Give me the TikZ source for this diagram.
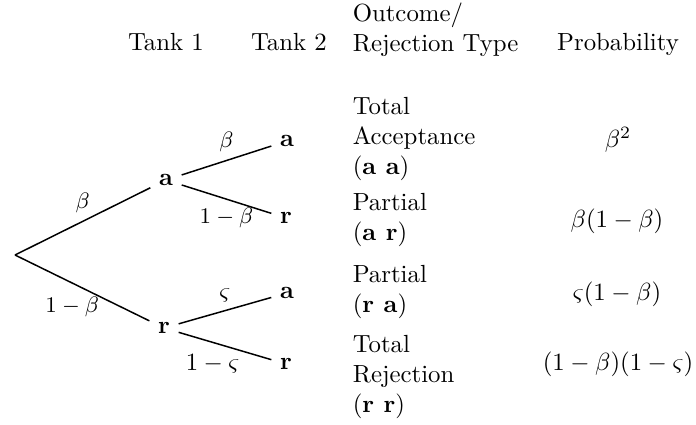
\documentclass[tikz,border=0pt]{standalone}
\begin{document}
\begin{tikzpicture}[x=0.4032pt,y=-0.4032pt,
  tnode/.style={font=\bfseries},
  hdr/.style={anchor=base},
  outc/.style={anchor=west,align=left},
  prob/.style={anchor=center},
  br/.style={line width=0.6pt},
  lab/.style={font=\normalsize},
  slab/.style={font=\small}]
\useasboundingbox (0,0) rectangle (696,425);
% headers
\node[hdr] (h1) at (166,50) {Tank 1};
\node[hdr] (h2) at (289,50) {Tank 2};
\node[outc] (h3) at (344,30) {Outcome/\\Rejection Type};
\node[hdr] (h4) at (618,50) {Probability};
% tree
\coordinate (root) at (15,255);
\node[tnode] (a1) at (166,180) {a};
\node[tnode] (r1) at (164,328) {r};
\node[tnode] (aa) at (287,141) {a};
\node[tnode] (ar) at (286,218) {r};
\node[tnode] (ra) at (287,293) {a};
\node[tnode] (rr) at (286,364) {r};
\draw[br] (root) -- node[midway,above,slab]{$\beta$} (a1);
\draw[br] (root) -- node[midway,below,slab,xshift=-4pt]{$1-\beta$} (r1);
\draw[br] (a1) -- node[midway,above,slab]{$\beta$} (aa);
\draw[br] (a1) -- node[midway,below,slab]{$1-\beta$} (ar);
\draw[br] (r1) -- node[midway,above,lab]{$\varsigma$} (ra);
\draw[br] (r1) -- node[midway,below,lab,xshift=-5pt]{$1-\varsigma$} (rr);
% outcomes
\node[outc] (o1) at (344,139) {Total\\Acceptance\\(\textbf{a a})};
\node[outc] (o2) at (344,220) {Partial\\(\textbf{a r})};
\node[outc] (o3) at (344,292) {Partial\\(\textbf{r a})};
\node[outc] (o4) at (344,377) {Total\\Rejection\\(\textbf{r r})};
% probabilities
\node[prob] (p1) at (618,140) {$\beta^2$};
\node[prob] (p2) at (617,221) {$\beta(1-\beta)$};
\node[prob] (p3) at (617,294) {$\varsigma(1-\beta)$};
\node[prob] (p4) at (618,364) {$(1-\beta)(1-\varsigma)$};
\end{tikzpicture}
\end{document}
